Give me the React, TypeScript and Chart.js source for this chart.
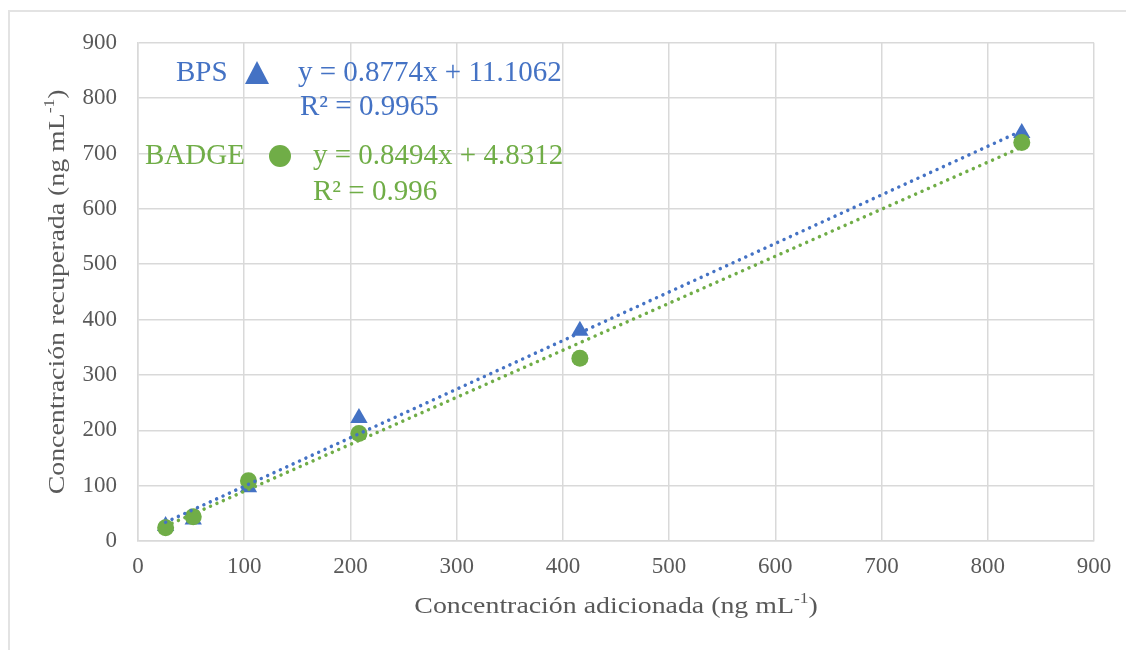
import React, { useEffect, useRef } from "react";
import { Chart, registerables } from "chart.js";

Chart.register(...registerables);

// Spiked concentration (ng mL-1) and recovered concentration for each analyte
const addedConc = [26, 52, 104, 208, 416, 832];
const bpsRecovered = [27, 39, 97, 222, 380, 737];
const badgeRecovered = [24, 44, 109, 194, 330, 720];

// Linear fits reported for each series
const bpsSlope = 0.8774;
const bpsIntercept = 11.1062;
const bpsR2 = "0.9965";
const badgeSlope = 0.8494;
const badgeIntercept = 4.8312;
const badgeR2 = "0.996";

const axisMin = 0;
const axisMax = 900;
const axisStep = 100;

const BLUE = "#4472C4";
const GREEN = "#70AD47";
const GRID = "#d9d9d9";
const TEXT = "#595959";
const FONT = "'Liberation Serif', 'DejaVu Serif', serif";

type Part = { text: string; sup?: boolean };

// Draws a run of text with optional superscripts; stretchX widens the glyphs horizontally
function drawRich(
  ctx: CanvasRenderingContext2D,
  parts: Part[],
  x: number,
  y: number,
  size: number,
  align: "left" | "center",
  stretchX = 1
) {
  const supSize = Math.round(size * 0.62);
  const widths = parts.map((p) => {
    ctx.font = `${p.sup ? supSize : size}px ${FONT}`;
    return ctx.measureText(p.text).width;
  });
  const total = widths.reduce((a, b) => a + b, 0);
  ctx.save();
  ctx.translate(x, y);
  ctx.scale(stretchX, 1);
  let cx = align === "center" ? -total / 2 : 0;
  ctx.textAlign = "left";
  ctx.textBaseline = "middle";
  parts.forEach((p, i) => {
    ctx.font = `${p.sup ? supSize : size}px ${FONT}`;
    ctx.fillText(p.text, cx, p.sup ? -size * 0.33 : 0);
    cx += widths[i];
  });
  ctx.restore();
}

const fitLine = (slope: number, intercept: number) => {
  const lo = Math.min(...addedConc);
  const hi = Math.max(...addedConc);
  return [
    { x: lo, y: slope * lo + intercept },
    { x: hi, y: slope * hi + intercept },
  ];
};

const annotations = {
  id: "annotations",
  afterDraw(chart: Chart) {
    const ctx = chart.ctx;
    const area = chart.chartArea;
    ctx.save();

    // axis titles with superscript units
    ctx.fillStyle = TEXT;
    drawRich(
      ctx,
      [{ text: "Concentración adicionada (ng mL" }, { text: "-1", sup: true }, { text: ")" }],
      (area.left + area.right) / 2,
      599,
      24,
      "center",
      1.16
    );
    ctx.save();
    ctx.translate(50, (area.top + area.bottom) / 2);
    ctx.rotate(-Math.PI / 2);
    drawRich(
      ctx,
      [{ text: "Concentración recuperada (ng mL" }, { text: "-1", sup: true }, { text: ")" }],
      0,
      0,
      24,
      "center",
      1.16
    );
    ctx.restore();

    // series keys with fitted equations
    const fs = 29;
    ctx.fillStyle = BLUE;
    drawRich(ctx, [{ text: "BPS" }], 168, 65, fs, "left");
    ctx.beginPath();
    ctx.moveTo(249, 53);
    ctx.lineTo(261, 76);
    ctx.lineTo(237, 76);
    ctx.closePath();
    ctx.fill();
    drawRich(ctx, [{ text: `y = ${bpsSlope}x + ${bpsIntercept}` }], 290, 65, fs, "left");
    drawRich(ctx, [{ text: `R² = ${bpsR2}` }], 292, 99, fs, "left");

    ctx.fillStyle = GREEN;
    drawRich(ctx, [{ text: "BADGE" }], 137, 148, fs, "left");
    ctx.beginPath();
    ctx.arc(272, 148, 11, 0, Math.PI * 2);
    ctx.fill();
    drawRich(ctx, [{ text: `y = ${badgeSlope}x + ${badgeIntercept}` }], 305, 148, fs, "left");
    drawRich(ctx, [{ text: `R² = ${badgeR2}` }], 305, 184, fs, "left");

    ctx.restore();
  },
};

export default function App() {
  const canvasRef = useRef<HTMLCanvasElement | null>(null);

  useEffect(() => {
    if (!canvasRef.current) return;
    const tickFont = { family: FONT, size: 23 };
    const chart = new Chart(canvasRef.current, {
      type: "scatter",
      data: {
        datasets: [
          {
            label: "BPS tendencia",
            type: "line",
            data: fitLine(bpsSlope, bpsIntercept),
            borderColor: BLUE,
            borderWidth: 3.5,
            borderDash: [0.01, 7],
            borderCapStyle: "round",
            pointRadius: 0,
            fill: false,
            order: 0,
          },
          {
            label: "BADGE tendencia",
            type: "line",
            data: fitLine(badgeSlope, badgeIntercept),
            borderColor: GREEN,
            borderWidth: 3.5,
            borderDash: [0.01, 7],
            borderCapStyle: "round",
            pointRadius: 0,
            fill: false,
            order: 0,
          },
          {
            label: "BADGE",
            data: addedConc.map((x, i) => ({ x, y: badgeRecovered[i] })),
            pointStyle: "circle",
            pointRadius: 8.5,
            backgroundColor: GREEN,
            borderColor: GREEN,
            borderWidth: 0,
            order: 1,
          },
          {
            label: "BPS",
            data: addedConc.map((x, i) => ({ x, y: bpsRecovered[i] })),
            pointStyle: "triangle",
            pointRadius: 10,
            backgroundColor: BLUE,
            borderColor: BLUE,
            borderWidth: 0,
            order: 2,
          },
        ],
      },
      options: {
        animation: false,
        responsive: false,
        devicePixelRatio: 1,
        layout: { padding: { left: 0, right: 40, top: 31, bottom: 0 } },
        plugins: { legend: { display: false }, tooltip: { enabled: false } },
        scales: {
          x: {
            type: "linear",
            min: axisMin,
            max: axisMax,
            ticks: { stepSize: axisStep, padding: 12, color: TEXT, font: tickFont },
            grid: { color: GRID, lineWidth: 1.5, drawTicks: false },
            border: { color: GRID, width: 1.5 },
            afterFit: (s: any) => {
              s.height = 109;
            },
          },
          y: {
            type: "linear",
            min: axisMin,
            max: axisMax,
            ticks: { stepSize: axisStep, padding: 21, color: TEXT, font: tickFont },
            grid: { color: GRID, lineWidth: 1.5, drawTicks: false },
            border: { color: GRID, width: 1.5 },
            afterFit: (s: any) => {
              s.width = 130;
            },
          },
        },
      },
      plugins: [annotations],
    });
    return () => chart.destroy();
  }, []);

  return (
    <div style={{ position: "relative", width: 1126, height: 642, overflow: "hidden", background: "#fff" }}>
      <div
        style={{
          position: "absolute",
          left: 0,
          top: 2,
          width: 1200,
          height: 700,
          border: "2px solid #e3e3e3",
          boxSizing: "border-box",
        }}
      />
      <canvas
        ref={canvasRef}
        width={1126}
        height={642}
        style={{ position: "absolute", left: 0, top: 0, width: 1126, height: 642 }}
      />
    </div>
  );
}
